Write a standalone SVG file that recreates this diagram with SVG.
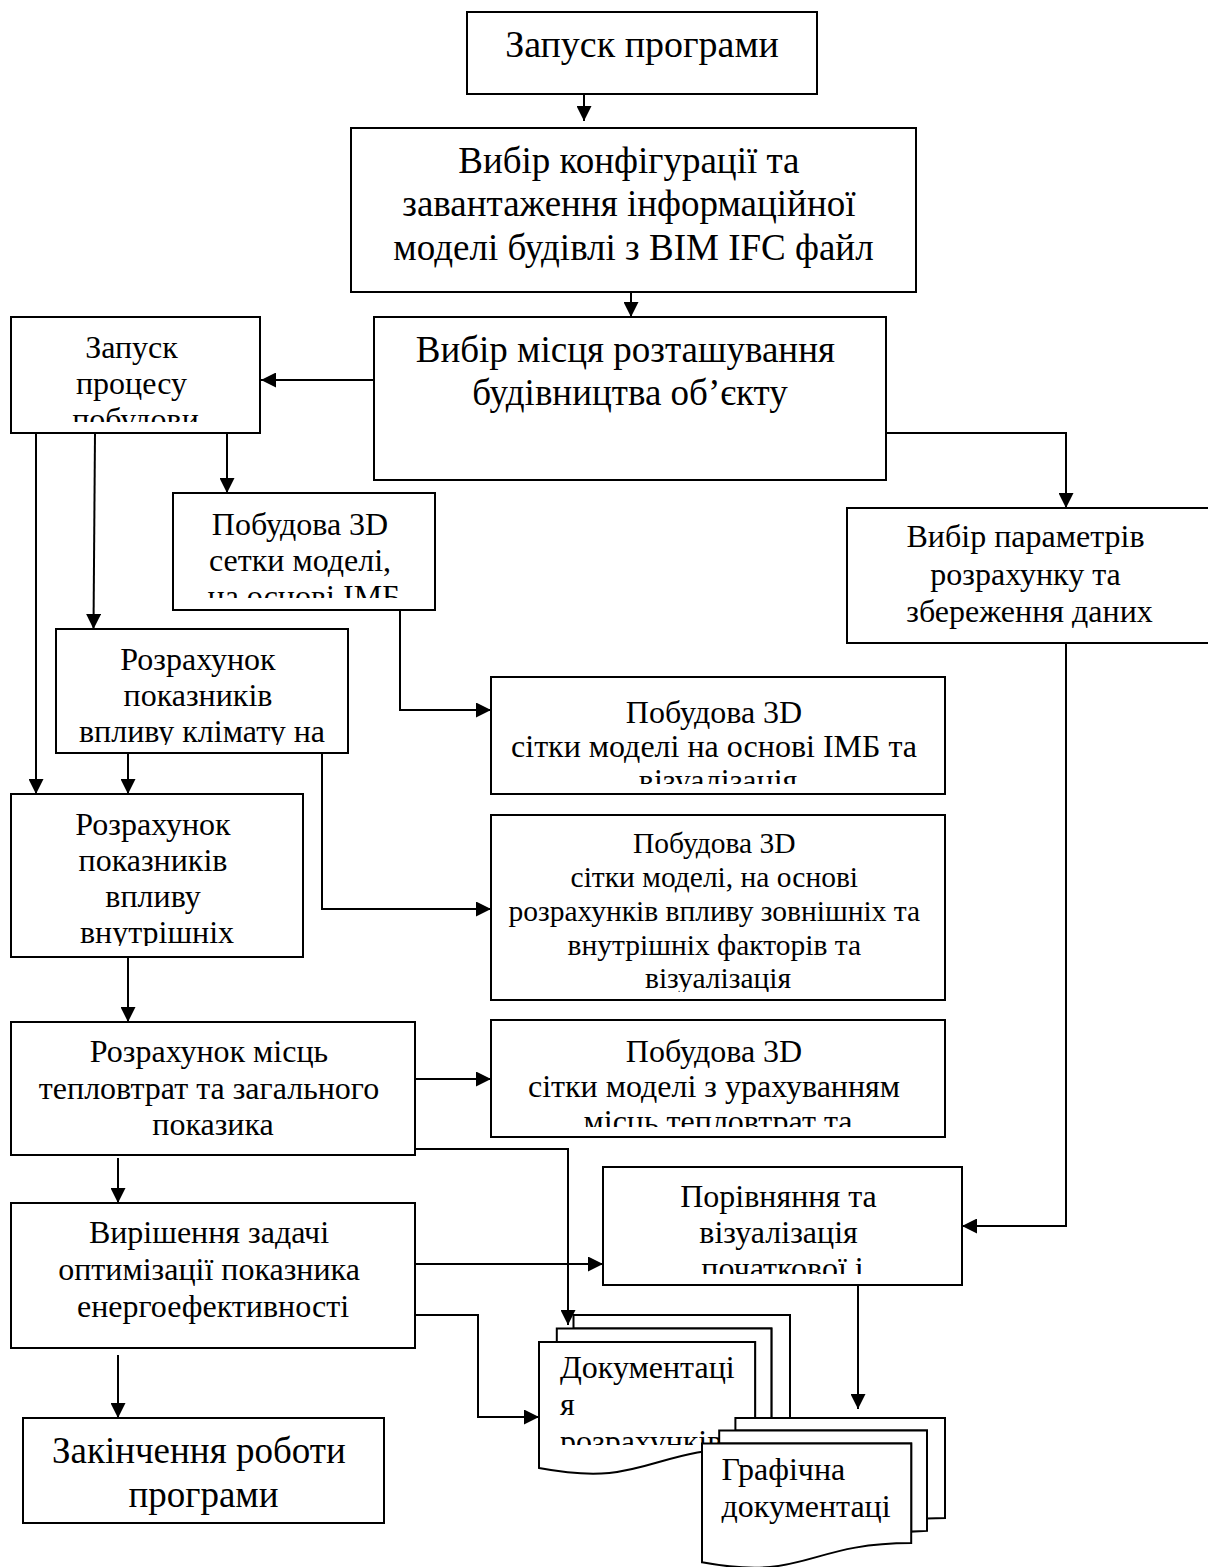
<svg xmlns="http://www.w3.org/2000/svg" width="1208" height="1567" viewBox="0 0 1208 1567">
  <style>
    .box { fill: #fff; stroke: #000; stroke-width: 2; }
    .page { fill: #fff; stroke: #000; stroke-width: 2; stroke-linejoin: miter; }
    .wire { fill: none; stroke: #000; stroke-width: 2; }
    .t { font-family: "Liberation Serif", "Times New Roman", serif; font-size: 32px; fill: #000; text-anchor: middle; }
    .big { font-size: 37px; }
    .title { font-size: 38px; }
    .small { font-size: 29.5px; }
    .left { text-anchor: start; }
  </style>
  <defs>
    <marker id="arrow" markerUnits="userSpaceOnUse" markerWidth="15" markerHeight="15" refX="15" refY="7.5" orient="auto">
      <path d="M0,0 L15,7.5 L0,15 Z" fill="#000"/>
    </marker>
    <!-- text areas of the boxes whose labels overflow -->
    <clipPath id="clip-launch"><rect x="11" y="317" width="249" height="105"/></clipPath>
    <clipPath id="clip-mesh"><rect x="173" y="493" width="262" height="105"/></clipPath>
    <clipPath id="clip-climate"><rect x="56" y="629" width="292" height="116"/></clipPath>
    <clipPath id="clip-internal"><rect x="11" y="794" width="292" height="152"/></clipPath>
    <clipPath id="clip-imbvis"><rect x="491" y="677" width="454" height="107"/></clipPath>
    <clipPath id="clip-factors"><rect x="491" y="815" width="454" height="177"/></clipPath>
    <clipPath id="clip-heatvis"><rect x="491" y="1020" width="454" height="107"/></clipPath>
    <clipPath id="clip-compare"><rect x="603" y="1167" width="359" height="107"/></clipPath>
    <clipPath id="clip-calcdocs"><rect x="539" y="1342" width="216" height="103"/></clipPath>
    <clipPath id="clip-graphdocs"><rect x="702" y="1443" width="209" height="97"/></clipPath>
  </defs>

  <g id="connectors">
    <path class="wire" d="M584,94 V121" marker-end="url(#arrow)"/>
    <path class="wire" d="M631,292 V317" marker-end="url(#arrow)"/>
    <path class="wire" d="M374,380 H261" marker-end="url(#arrow)"/>
    <path class="wire" d="M886,433 H1066 V508" marker-end="url(#arrow)"/>
    <path class="wire" d="M36,433 V794" marker-end="url(#arrow)"/>
    <path class="wire" d="M95,433 L93.5,629" marker-end="url(#arrow)"/>
    <path class="wire" d="M227,433 V493" marker-end="url(#arrow)"/>
    <path class="wire" d="M400,610 V710 H491" marker-end="url(#arrow)"/>
    <path class="wire" d="M128,753 V794" marker-end="url(#arrow)"/>
    <path class="wire" d="M322,753 V909 H491" marker-end="url(#arrow)"/>
    <path class="wire" d="M128,957 V1022" marker-end="url(#arrow)"/>
    <path class="wire" d="M415,1079 H491" marker-end="url(#arrow)"/>
    <path class="wire" d="M413.5,1122 V1149 H568 V1325" marker-end="url(#arrow)"/>
    <path class="wire" d="M118,1158 V1203" marker-end="url(#arrow)"/>
    <path class="wire" d="M415,1264 H603" marker-end="url(#arrow)"/>
    <path class="wire" d="M415,1315 H478 V1417 H539" marker-end="url(#arrow)"/>
    <path class="wire" d="M118,1355 V1418" marker-end="url(#arrow)"/>
    <path class="wire" d="M1066,643 V1226 H962" marker-end="url(#arrow)"/>
    <path class="wire" d="M858,1285 V1409" marker-end="url(#arrow)"/>
  </g>

  <g id="n-start">
    <rect class="box" x="467" y="12" width="350" height="82"/>
    <text class="t title" x="642" y="57">Запуск програми</text>
  </g>

  <g id="n-config">
    <rect class="box" x="351" y="128" width="565" height="164"/>
    <text class="t big">
      <tspan x="633.5" y="173">Вибір конфігурації та</tspan>
      <tspan x="633.5" y="216">завантаження інформаційної</tspan>
      <tspan x="633.5" y="260">моделі будівлі з BIM IFC файл</tspan>
    </text>
  </g>

  <g id="n-site">
    <rect class="box" x="374" y="317" width="512" height="163"/>
    <text class="t big">
      <tspan x="630" y="362">Вибір місця розташування</tspan>
      <tspan x="630" y="405">будівництва об’єкту</tspan>
    </text>
  </g>

  <g id="n-launch">
    <rect class="box" x="11" y="317" width="249" height="116"/>
    <text class="t" clip-path="url(#clip-launch)">
      <tspan x="135.5" y="358">Запуск</tspan>
      <tspan x="135.5" y="394">процесу</tspan>
      <tspan x="135.5" y="430">побудови</tspan>
    </text>
  </g>

  <g id="n-mesh">
    <rect class="box" x="173" y="493" width="262" height="117"/>
    <text class="t" clip-path="url(#clip-mesh)">
      <tspan x="304" y="535">Побудова 3D</tspan>
      <tspan x="304" y="571">сетки моделі,</tspan>
      <tspan x="304" y="607">на основі ІМБ</tspan>
    </text>
  </g>

  <g id="n-params">
    <rect class="box" x="847" y="508" width="363" height="135"/>
    <text class="t">
      <tspan x="1029.5" y="547">Вибір параметрів</tspan>
      <tspan x="1029.5" y="585">розрахунку та</tspan>
      <tspan x="1029.5" y="622">збереження даних</tspan>
    </text>
  </g>

  <g id="n-climate">
    <rect class="box" x="56" y="629" width="292" height="124"/>
    <text class="t" clip-path="url(#clip-climate)">
      <tspan x="202" y="670">Розрахунок</tspan>
      <tspan x="202" y="706">показників</tspan>
      <tspan x="202" y="742">впливу клімату на</tspan>
    </text>
  </g>

  <g id="n-imb-vis">
    <rect class="box" x="491" y="677" width="454" height="117"/>
    <text class="t" clip-path="url(#clip-imbvis)">
      <tspan x="718" y="723">Побудова 3D</tspan>
      <tspan x="718" y="757">сітки моделі на основі ІМБ та</tspan>
      <tspan x="718" y="791">візуалізація</tspan>
    </text>
  </g>

  <g id="n-internal">
    <rect class="box" x="11" y="794" width="292" height="163"/>
    <text class="t" clip-path="url(#clip-internal)">
      <tspan x="157" y="835">Розрахунок</tspan>
      <tspan x="157" y="871">показників</tspan>
      <tspan x="157" y="907">впливу</tspan>
      <tspan x="157" y="943">внутрішніх</tspan>
    </text>
  </g>

  <g id="n-factors-vis">
    <rect class="box" x="491" y="815" width="454" height="185"/>
    <text class="t small" clip-path="url(#clip-factors)">
      <tspan x="718" y="853">Побудова 3D</tspan>
      <tspan x="718" y="887">сітки моделі, на основі</tspan>
      <tspan x="718" y="921">розрахунків впливу зовнішніх та</tspan>
      <tspan x="718" y="955">внутрішніх факторів та</tspan>
      <tspan x="718" y="988">візуалізація</tspan>
    </text>
  </g>

  <g id="n-heatloss">
    <rect class="box" x="11" y="1022" width="404" height="133"/>
    <text class="t">
      <tspan x="213" y="1062">Розрахунок місць</tspan>
      <tspan x="213" y="1099">тепловтрат та загального</tspan>
      <tspan x="213" y="1135">показика</tspan>
    </text>
  </g>

  <g id="n-heatloss-vis">
    <rect class="box" x="491" y="1020" width="454" height="117"/>
    <text class="t" clip-path="url(#clip-heatvis)">
      <tspan x="718" y="1062">Побудова 3D</tspan>
      <tspan x="718" y="1097">сітки моделі з урахуванням</tspan>
      <tspan x="718" y="1132">місць тепловтрат та</tspan>
    </text>
  </g>

  <g id="n-compare">
    <rect class="box" x="603" y="1167" width="359" height="118"/>
    <text class="t" clip-path="url(#clip-compare)">
      <tspan x="782.5" y="1207">Порівняння та</tspan>
      <tspan x="782.5" y="1243">візуалізація</tspan>
      <tspan x="782.5" y="1279">початкової і</tspan>
    </text>
  </g>

  <g id="n-optimize">
    <rect class="box" x="11" y="1203" width="404" height="145"/>
    <text class="t">
      <tspan x="213" y="1243">Вирішення задачі</tspan>
      <tspan x="213" y="1280">оптимізації показника</tspan>
      <tspan x="213" y="1317">енергоефективності</tspan>
    </text>
  </g>

  <g id="n-end">
    <rect class="box" x="23" y="1418" width="361" height="105"/>
    <text class="t big">
      <tspan x="203.5" y="1463">Закінчення роботи</tspan>
      <tspan x="203.5" y="1507">програми</tspan>
    </text>
  </g>

  <!-- stacked document sheets -->
  <g id="n-calc-docs">
    <path class="page" d="M573.5,1328.4 V1315 H790 V1420.9 L771.4,1421.5 V1328.4 Z"/>
    <path class="page" d="M556.8,1342 V1328.4 H771.4 V1434.6 L755.1,1435.4 V1342 Z"/>
    <path class="page" d="M539,1342 H755.1 V1447.7 C647.1,1447.7 647.1,1488.3 539,1468 Z"/>
    <text class="t left" clip-path="url(#clip-calcdocs)">
      <tspan x="560" y="1378">Документаці</tspan>
      <tspan x="560" y="1415">я</tspan>
      <tspan x="560" y="1452">розрахунків</tspan>
    </text>
  </g>

  <g id="n-graphic-docs">
    <path class="page" d="M735.4,1430.6 V1418 H945 V1518 L927,1518.5 V1430.6 Z"/>
    <path class="page" d="M719.2,1443.5 V1430.6 H927 V1530.9 L911.2,1531.6 V1443.5 Z"/>
    <path class="page" d="M702,1443.5 H911.2 V1543.1 C806.6,1543.1 806.6,1581.5 702,1562.3 Z"/>
    <text class="t left" clip-path="url(#clip-graphdocs)">
      <tspan x="721.5" y="1480">Графічна</tspan>
      <tspan x="721.5" y="1517">документаці</tspan>
    </text>
  </g>
</svg>
